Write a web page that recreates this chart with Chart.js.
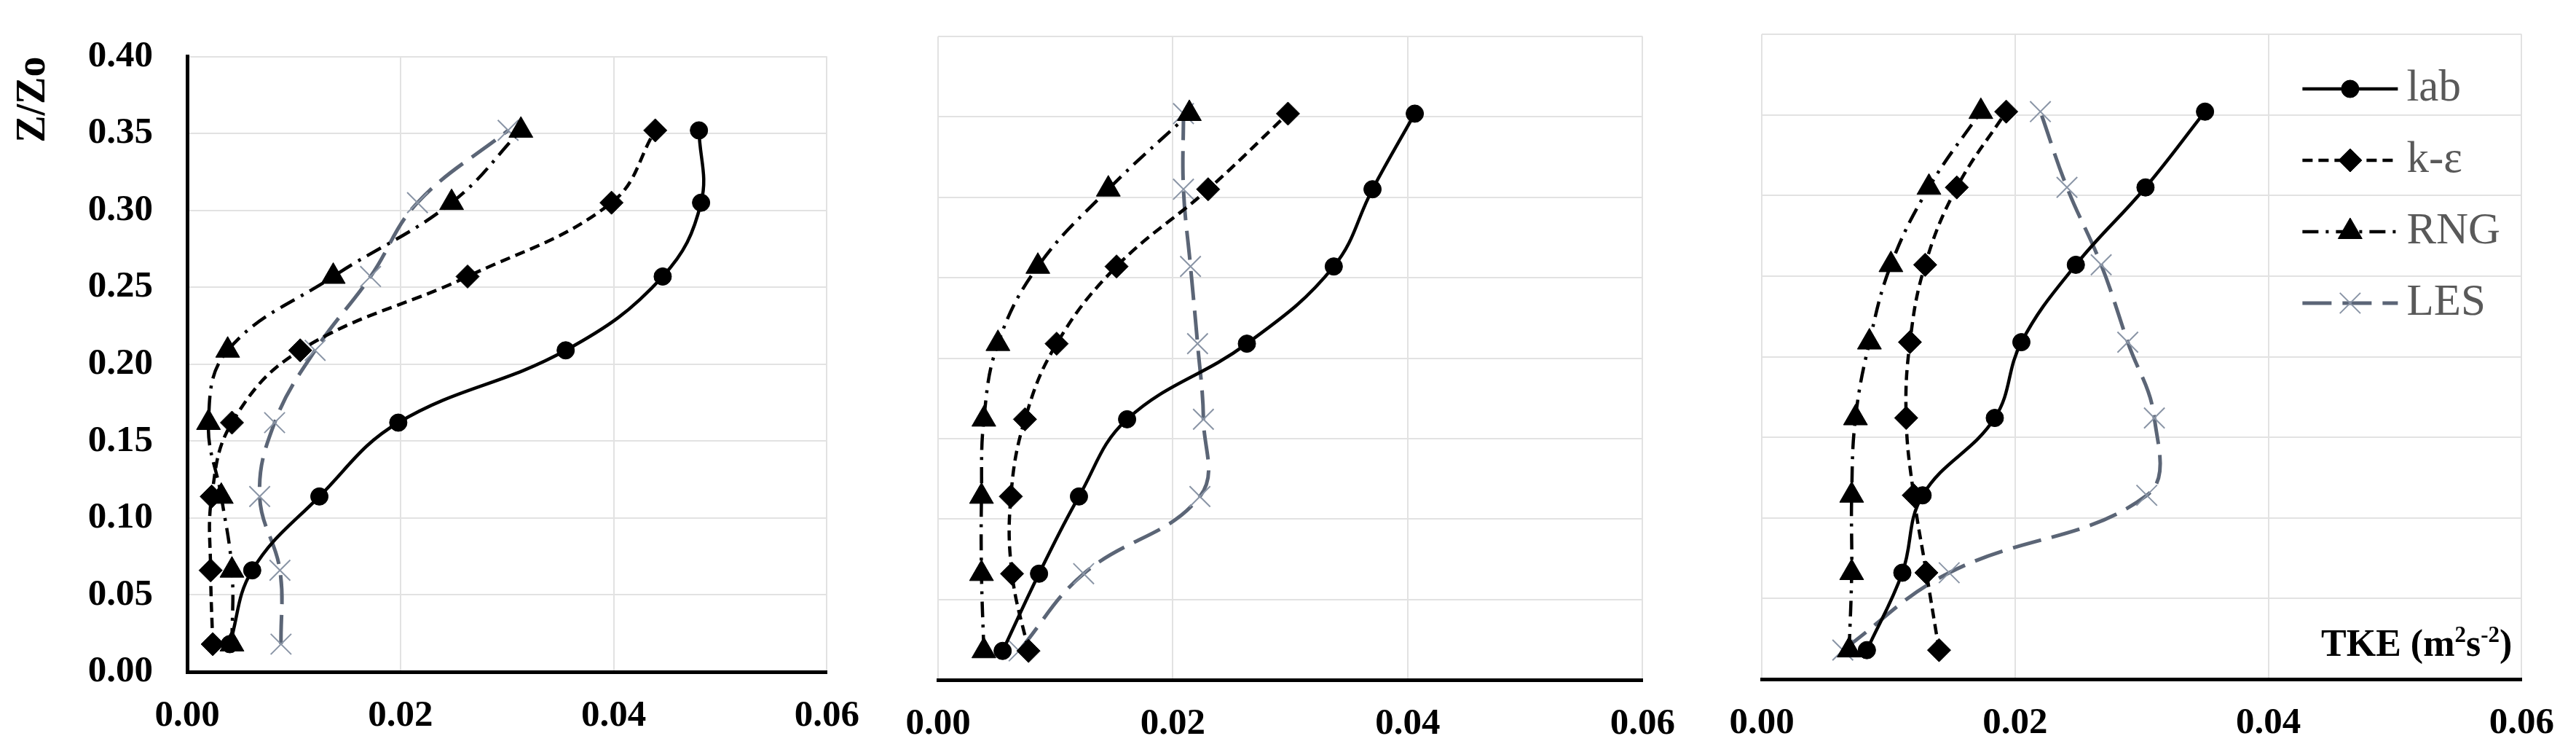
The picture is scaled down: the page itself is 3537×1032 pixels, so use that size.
<!DOCTYPE html>
<html>
<head>
<meta charset="utf-8">
<script src="https://cdn.jsdelivr.net/npm/chart.js@4.4.1/dist/chart.umd.min.js"></script>
<style>
    html, body { margin: 0; padding: 0; background: #fff; }
    body { width: 3537px; height: 1032px; position: relative; overflow: hidden; }
    .panel { position: absolute; top: 0; }
</style>
</head>
<body>
<div class="panel" style="left:0px"><canvas id="c1" width="1210" height="1032"></canvas></div>
<div class="panel" style="left:1210px"><canvas id="c2" width="1120" height="1032"></canvas></div>
<div class="panel" style="left:2330px"><canvas id="c3" width="1207" height="1032"></canvas></div>
<script>
// measurement heights Z/Zo (same for every series)
const heights = [0.018, 0.066, 0.114, 0.162, 0.209, 0.257, 0.305, 0.352];
const seriesNames = ['lab', 'k-ε', 'RNG', 'LES'];
const xTicks = [0, 0.02, 0.04, 0.06];

// panel 1 - TKE values
const lab1 = [0.0040, 0.0061, 0.0124, 0.0198, 0.0355, 0.0446, 0.0482, 0.0480];
const ke1  = [0.0024, 0.0022, 0.0023, 0.0042, 0.0106, 0.0263, 0.0398, 0.0439];
const rng1 = [0.0042, 0.0042, 0.0032, 0.0020, 0.0038, 0.0137, 0.0248, 0.0313];
const les1 = [0.0088, 0.0087, 0.0068, 0.0082, 0.0120, 0.0172, 0.0216, 0.0301];

// panel 2
const lab2 = [0.0055, 0.0086, 0.0120, 0.0161, 0.0263, 0.0337, 0.0370, 0.0406];
const ke2  = [0.0077, 0.0063, 0.0062, 0.0074, 0.0101, 0.0152, 0.0230, 0.0298];
const rng2 = [0.0039, 0.0037, 0.0037, 0.0039, 0.0051, 0.0085, 0.0145, 0.0214];
const les2 = [0.0069, 0.0124, 0.0223, 0.0226, 0.0221, 0.0215, 0.0209, 0.0209];

// panel 3
const lab3 = [0.0083, 0.0111, 0.0127, 0.0184, 0.0205, 0.0248, 0.0303, 0.0350];
const ke3  = [0.0140, 0.0130, 0.0120, 0.0114, 0.0117, 0.0129, 0.0154, 0.0193];
const rng3 = [0.0069, 0.0071, 0.0071, 0.0074, 0.0085, 0.0102, 0.0132, 0.0173];
const les3 = [0.0064, 0.0148, 0.0304, 0.0310, 0.0289, 0.0268, 0.0241, 0.0220];

const serif = '"Liberation Serif", "Times New Roman", serif';
Chart.defaults.font.family = serif;
Chart.defaults.color = '#000';

// line / marker look per series
const styles = [
    { borderColor: '#000', borderWidth: 4.5, borderDash: [],
      pointStyle: 'circle', pointRadius: 12, pointBackgroundColor: '#000', pointBorderColor: '#000', pointBorderWidth: 1 },
    { borderColor: '#000', borderWidth: 4.5, borderDash: [14, 8],
      pointStyle: 'rectRot', pointRadius: 16, pointBackgroundColor: '#000', pointBorderColor: '#000', pointBorderWidth: 1 },
    { borderColor: '#000', borderWidth: 4.5, borderDash: [22, 10, 4, 10],
      pointStyle: 'triangle', pointRadius: 19, pointBackgroundColor: '#000', pointBorderColor: '#000', pointBorderWidth: 1 },
    { borderColor: '#5b6576', borderWidth: 5, borderDash: [40, 15],
      pointStyle: 'crossRot', pointRadius: 20, pointBackgroundColor: '#8a95a6', pointBorderColor: '#8a95a6', pointBorderWidth: 2 }
];

function makeDatasets(valueLists) {
    return valueLists.map((vals, i) => Object.assign({
        label: seriesNames[i],
        data: vals.map((v, k) => ({ x: v, y: heights[k] })),
        showLine: true,
        tension: 0.4,
        fill: false
    }, styles[i]));
}

// draws the legend inside the third panel
const insideLegend = {
    id: 'insideLegend',
    afterDraw(chart, args, opts) {
        if (!opts.show) return;
        const { ctx, chartArea } = chart;
        const x0 = chartArea.right - 301;
        const x1 = chartArea.right - 170;
        chart.data.datasets.forEach((ds, i) => {
            const y = chartArea.top + 75 + i * 98;
            ctx.save();
            ctx.strokeStyle = ds.borderColor;
            ctx.lineWidth = ds.borderWidth;
            ctx.setLineDash(ds.borderDash);
            ctx.beginPath();
            ctx.moveTo(x0, y);
            ctx.lineTo(x1, y);
            ctx.stroke();
            ctx.setLineDash([]);
            ctx.fillStyle = ds.pointBackgroundColor;
            ctx.strokeStyle = ds.pointBorderColor;
            ctx.lineWidth = ds.pointBorderWidth;
            Chart.helpers.drawPoint(ctx, {
                pointStyle: ds.pointStyle, radius: ds.pointRadius, rotation: 0, borderWidth: ds.pointBorderWidth
            }, (x0 + x1) / 2, y);
            ctx.fillStyle = '#595959';
            ctx.font = '61px ' + serif;
            ctx.textBaseline = 'middle';
            ctx.textAlign = 'left';
            ctx.fillText(ds.label, x1 + 12, y);
            ctx.restore();
        });
    }
};

// "TKE (m2s-2)" with raised exponents, bottom right of the third panel
const unitLabel = {
    id: 'unitLabel',
    afterDraw(chart, args, opts) {
        if (!opts.show) return;
        const { ctx, chartArea } = chart;
        const big = 'bold 52px ' + serif;
        const small = 'bold 31px ' + serif;
        const parts = [['TKE (m', big, 0], ['2', small, -19], ['s', big, 0], ['-2', small, -19], [')', big, 0]];
        ctx.save();
        ctx.fillStyle = '#000';
        ctx.textBaseline = 'alphabetic';
        ctx.textAlign = 'left';
        let w = 0;
        parts.forEach(p => { ctx.font = p[1]; w += ctx.measureText(p[0]).width; });
        let x = chartArea.right - 13 - w;
        const y = chartArea.bottom - 32;
        parts.forEach(p => {
            ctx.font = p[1];
            ctx.fillText(p[0], x, y + p[2]);
            x += ctx.measureText(p[0]).width;
        });
        ctx.restore();
    }
};

function buildPanel(id, valueLists, cfg) {
    const tickFont = { size: 51, weight: 'bold', family: serif, lineHeight: 1.2 };
    return new Chart(document.getElementById(id), {
        type: 'scatter',
        data: { datasets: makeDatasets(valueLists) },
        options: {
            responsive: false,
            animation: false,
            devicePixelRatio: 1,
            layout: { padding: { top: cfg.top, right: cfg.right, bottom: 0, left: 0 } },
            plugins: {
                legend: { display: false },
                tooltip: { enabled: false },
                insideLegend: { show: cfg.legend },
                unitLabel: { show: cfg.legend }
            },
            scales: {
                x: {
                    type: 'linear',
                    min: 0,
                    max: 0.06,
                    afterFit: s => { s.height = cfg.xAxisH; },
                    afterBuildTicks: s => { s.ticks = xTicks.map(v => ({ value: v })); },
                    ticks: { padding: 30, color: '#000', font: tickFont, callback: v => v.toFixed(2) },
                    grid: { color: '#e2e2e2', lineWidth: 2, drawTicks: false },
                    border: { display: true, color: '#000', width: 5 }
                },
                y: {
                    type: 'linear',
                    min: 0,
                    max: 0.4,
                    afterFit: s => { s.width = cfg.yAxisW; },
                    ticks: { display: cfg.showY, stepSize: 0.05, padding: 47, color: '#000', font: tickFont,
                             callback: v => v.toFixed(2) },
                    grid: { color: '#e2e2e2', lineWidth: 2, drawTicks: false },
                    border: { display: cfg.showY, color: '#000', width: 5 },
                    title: {
                        display: cfg.showY,
                        text: 'Z/Zo',
                        align: 'end',
                        color: '#000',
                        font: { size: 56, weight: 'bold', family: serif, lineHeight: 1.2 },
                        padding: { top: 13, bottom: 0 }
                    }
                }
            }
        },
        plugins: [insideLegend, unitLabel]
    });
}

buildPanel('c1', [lab1, ke1, rng1, les1], { top: 47, right: 47, xAxisH: 110, yAxisW: 257, showY: true, legend: false });
buildPanel('c2', [lab2, ke2, rng2, les2], { top: 50, right: 54, xAxisH: 99, yAxisW: 78, showY: false, legend: false });
buildPanel('c3', [lab3, ke3, rng3, les3], { top: 47, right: 67, xAxisH: 100, yAxisW: 89, showY: false, legend: true });
</script>
</body>
</html>
